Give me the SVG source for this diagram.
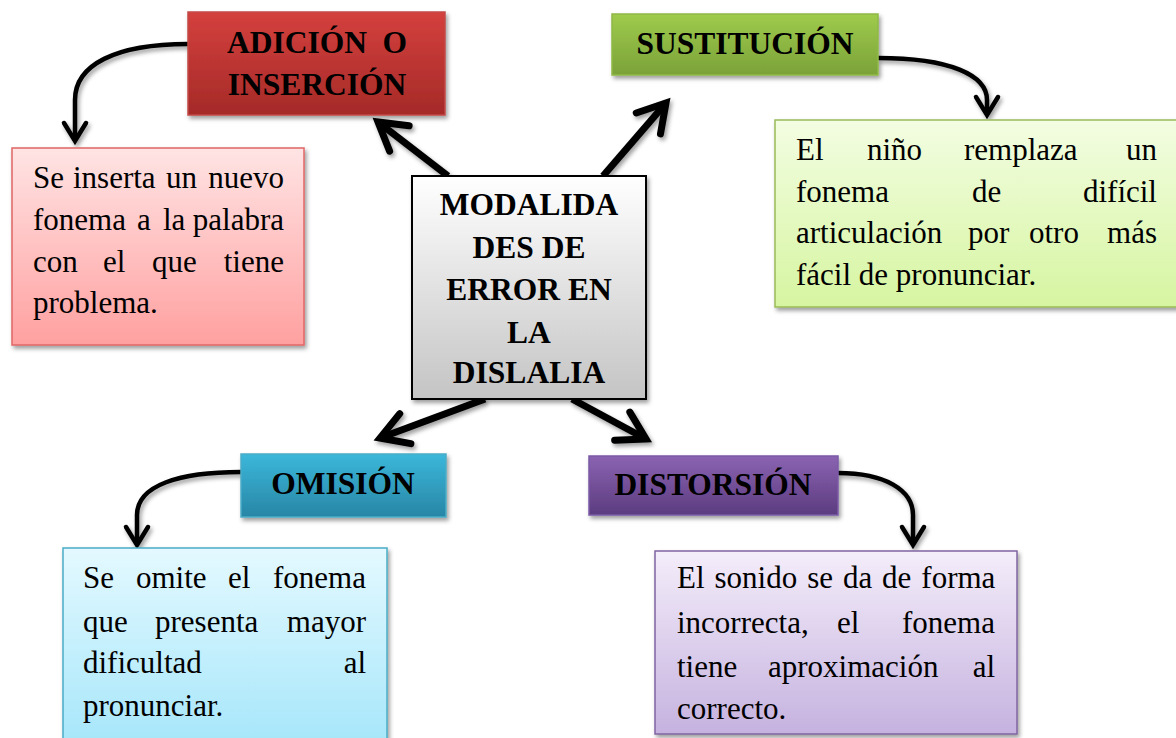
<svg xmlns="http://www.w3.org/2000/svg" width="1176" height="738" viewBox="0 0 1176 738">
<defs>
<style>
.h{font-family:"Liberation Serif","Times New Roman",serif;font-weight:bold;font-size:31.5px;fill:#000}
.b{font-family:"Liberation Serif","Times New Roman",serif;font-size:31px;fill:#000}
.big{fill:none;stroke:#000;stroke-width:7}
.sm{fill:none;stroke:#000;stroke-width:4.5}
</style>
<filter id="sh" x="-10%" y="-10%" width="125%" height="130%">
<feDropShadow dx="2" dy="3" stdDeviation="2.2" flood-color="#000" flood-opacity="0.38"/>
</filter>
<linearGradient id="gRed" x1="0" y1="0" x2="0" y2="1"><stop offset="0" stop-color="#d4403d"/><stop offset="1" stop-color="#a52a28"/></linearGradient>
<linearGradient id="gPink" x1="0" y1="0" x2="0" y2="1"><stop offset="0" stop-color="#ffe4e4"/><stop offset="1" stop-color="#ffa0a0"/></linearGradient>
<linearGradient id="gGreen" x1="0" y1="0" x2="0" y2="1"><stop offset="0" stop-color="#9fcb4c"/><stop offset="1" stop-color="#7aa239"/></linearGradient>
<linearGradient id="gLime" x1="0" y1="0" x2="0" y2="1"><stop offset="0" stop-color="#f3fde2"/><stop offset="1" stop-color="#d6f5a1"/></linearGradient>
<linearGradient id="gGray" x1="0" y1="0" x2="0" y2="1"><stop offset="0" stop-color="#ffffff"/><stop offset="1" stop-color="#c4c4c4"/></linearGradient>
<linearGradient id="gCyan" x1="0" y1="0" x2="0" y2="1"><stop offset="0" stop-color="#3bb7da"/><stop offset="1" stop-color="#2886a6"/></linearGradient>
<linearGradient id="gSky" x1="0" y1="0" x2="0" y2="1"><stop offset="0" stop-color="#e4f9ff"/><stop offset="1" stop-color="#a5e6fa"/></linearGradient>
<linearGradient id="gPurp" x1="0" y1="0" x2="0" y2="1"><stop offset="0" stop-color="#8a63b1"/><stop offset="1" stop-color="#5c3c80"/></linearGradient>
<linearGradient id="gLav" x1="0" y1="0" x2="0" y2="1"><stop offset="0" stop-color="#f4edfa"/><stop offset="1" stop-color="#c5b2df"/></linearGradient>
<marker id="aBig" markerUnits="userSpaceOnUse" viewBox="-40 -25 50 50" refX="0" refY="0" markerWidth="50" markerHeight="50" orient="auto" overflow="visible">
<path d="M-27,-16 L0,0 L-27,16" fill="none" stroke="#000" stroke-width="7" stroke-linecap="round"/>
</marker>
<marker id="aSm" markerUnits="userSpaceOnUse" viewBox="-30 -20 40 40" refX="0" refY="0" markerWidth="40" markerHeight="40" orient="auto" overflow="visible">
<path d="M-18,-11 L0,0 L-18,11" fill="none" stroke="#000" stroke-width="4.5" stroke-linecap="round"/>
</marker>
</defs>
<rect width="1176" height="738" fill="#fff"/>

<g id="connectors" filter="url(#sh)">
<path class="big" d="M448,176 L378,122" marker-end="url(#aBig)"/>
<path class="big" d="M603,176 L666,103" marker-end="url(#aBig)"/>
<path class="big" d="M485,399 L380,438" marker-end="url(#aBig)"/>
<path class="big" d="M572,399 L646,439" marker-end="url(#aBig)"/>
<path class="sm" d="M188,44 C115,44 75,65 75,100 L75,141" marker-end="url(#aSm)"/>
<path class="sm" d="M878,58 C950,58 987,75 987,100 L987,115" marker-end="url(#aSm)"/>
<path class="sm" d="M241,472 C180,472 137,485 137,515 L137,545" marker-end="url(#aSm)"/>
<path class="sm" d="M838,473 C885,473 913,490 913,515 L913,545" marker-end="url(#aSm)"/>
</g>

<g id="adicion">
<rect x="188" y="12" width="257" height="103" fill="url(#gRed)" stroke="#c24a47" stroke-width="1.5" filter="url(#sh)"/>
<text class="h" y="53"><tspan x="227">ADICIÓN</tspan><tspan x="382.5">O</tspan></text>
<text class="h" x="317" y="95" text-anchor="middle">INSERCIÓN</text>
</g>

<g id="adicion-desc">
<rect x="12" y="148" width="292" height="197" fill="url(#gPink)" stroke="#e06666" stroke-width="1.5" filter="url(#sh)"/>
<text class="b" y="188"><tspan x="33">Se</tspan><tspan x="73">inserta</tspan><tspan x="166">un</tspan><tspan x="284" text-anchor="end">nuevo</tspan></text>
<text class="b" y="230"><tspan x="33">fonema</tspan><tspan x="137">a</tspan><tspan x="163">la</tspan><tspan x="284" text-anchor="end">palabra</tspan></text>
<text class="b" y="272"><tspan x="33">con</tspan><tspan x="103">el</tspan><tspan x="152">que</tspan><tspan x="284" text-anchor="end">tiene</tspan></text>
<text class="b" x="33" y="313">problema.</text>
</g>

<g id="sustitucion">
<rect x="612" y="14" width="266" height="61" fill="url(#gGreen)" stroke="#8fb846" stroke-width="1.5" filter="url(#sh)"/>
<text class="h" x="745" y="54" text-anchor="middle">SUSTITUCIÓN</text>
</g>

<g id="sustitucion-desc">
<rect x="775" y="120" width="410" height="187" fill="url(#gLime)" stroke="#9bbb59" stroke-width="1.5" filter="url(#sh)"/>
<text class="b" y="160"><tspan x="796">El</tspan><tspan x="867">niño</tspan><tspan x="964">remplaza</tspan><tspan x="1157" text-anchor="end">un</tspan></text>
<text class="b" y="202"><tspan x="796">fonema</tspan><tspan x="972">de</tspan><tspan x="1157" text-anchor="end">difícil</tspan></text>
<text class="b" y="243"><tspan x="796">articulación</tspan><tspan x="968">por</tspan><tspan x="1029">otro</tspan><tspan x="1157" text-anchor="end">más</tspan></text>
<text class="b" x="796" y="285">fácil de pronunciar.</text>
</g>

<g id="centro">
<rect x="412" y="176" width="234" height="223" fill="url(#gGray)" stroke="#000" stroke-width="2" filter="url(#sh)"/>
<text class="h" x="529" text-anchor="middle"><tspan x="529" y="215">MODALIDA</tspan><tspan x="529" y="258">DES DE</tspan><tspan x="529" y="300">ERROR EN</tspan><tspan x="529" y="343">LA</tspan><tspan x="529" y="383">DISLALIA</tspan></text>
</g>

<g id="omision">
<rect x="241" y="454" width="205" height="63" fill="url(#gCyan)" stroke="#4bacc6" stroke-width="1.5" filter="url(#sh)"/>
<text class="h" x="343" y="494" text-anchor="middle">OMISIÓN</text>
</g>

<g id="omision-desc">
<rect x="63" y="548" width="324" height="200" fill="url(#gSky)" stroke="#4bacc6" stroke-width="1.5" filter="url(#sh)"/>
<text class="b" y="588"><tspan x="83">Se</tspan><tspan x="136">omite</tspan><tspan x="228">el</tspan><tspan x="366" text-anchor="end">fonema</tspan></text>
<text class="b" y="632"><tspan x="83">que</tspan><tspan x="155">presenta</tspan><tspan x="366" text-anchor="end">mayor</tspan></text>
<text class="b" y="673"><tspan x="83">dificultad</tspan><tspan x="366" text-anchor="end">al</tspan></text>
<text class="b" x="83" y="716">pronunciar.</text>
</g>

<g id="distorsion">
<rect x="589" y="456" width="249" height="59" fill="url(#gPurp)" stroke="#7b5aa6" stroke-width="1.5" filter="url(#sh)"/>
<text class="h" x="713" y="495" text-anchor="middle">DISTORSIÓN</text>
</g>

<g id="distorsion-desc">
<rect x="655" y="551" width="362" height="183" fill="url(#gLav)" stroke="#8064a2" stroke-width="1.5" filter="url(#sh)"/>
<text class="b" x="677" y="588" word-spacing="2.2">El sonido se da de forma</text>
<text class="b" y="633"><tspan x="677">incorrecta,</tspan><tspan x="837">el</tspan><tspan x="995" text-anchor="end">fonema</tspan></text>
<text class="b" y="677"><tspan x="677">tiene</tspan><tspan x="768">aproximación</tspan><tspan x="995" text-anchor="end">al</tspan></text>
<text class="b" x="677" y="719">correcto.</text>
</g>
</svg>
